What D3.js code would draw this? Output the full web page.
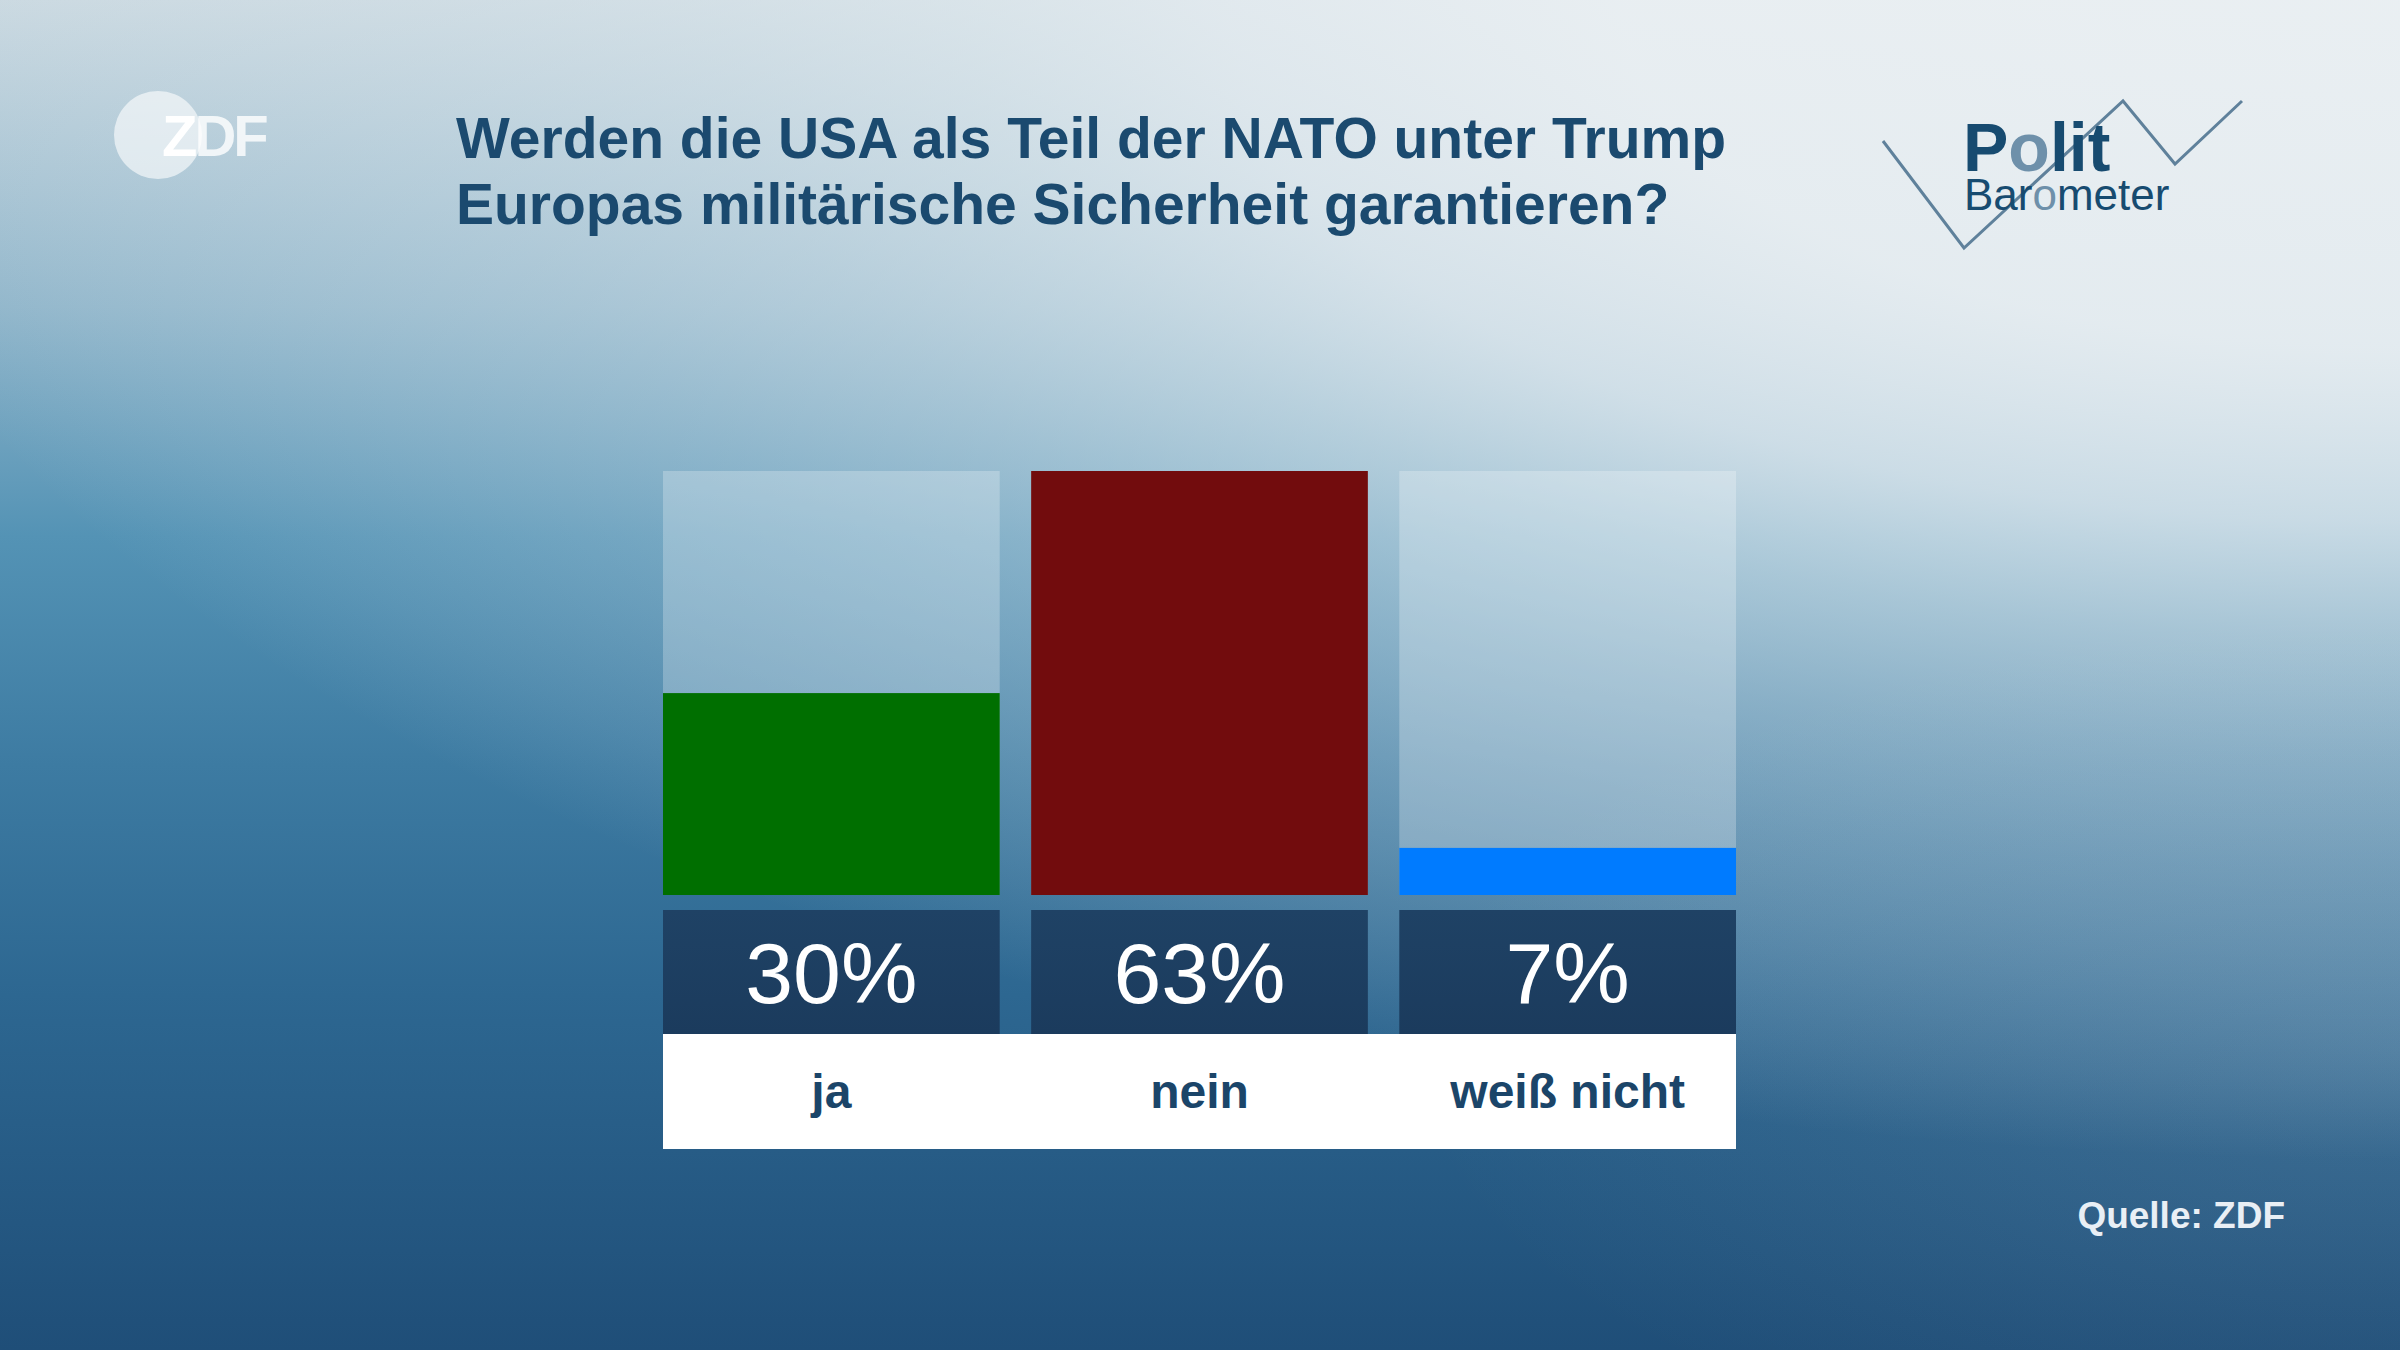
<!DOCTYPE html>
<html><head><meta charset="utf-8">
<script src="https://cdn.jsdelivr.net/npm/d3@7"></script>
<style>html,body{margin:0;padding:0;overflow:hidden;background:#2a5a82}</style>
</head><body>
<script>
const categories = ["ja", "nein", "weiß nicht"];
const values = [30, 63, 7];
const valueLabels = ["30%", "63%", "7%"];
const barColors = ["#006f00", "#720c0d", "#007bff"];
const titleLines = ["Werden die USA als Teil der NATO unter Trump", "Europas militärische Sicherheit garantieren?"];
const sourceText = "Quelle: ZDF";

const W = 2400, H = 1350;
const FONT = "Liberation Sans, Arial, sans-serif";
const svg = d3.select("body").append("svg").attr("width", W).attr("height", H);
const defs = svg.append("defs");

function linGrad(id, vertical, stops) {
  const g = defs.append("linearGradient").attr("id", id).attr("x1", 0).attr("y1", 0)
    .attr("x2", vertical ? 0 : 1).attr("y2", vertical ? 1 : 0);
  stops.forEach(([o, c, a]) => g.append("stop").attr("offset", o).attr("stop-color", c).attr("stop-opacity", a == null ? 1 : a));
}
function ellGrad(id, cx, cy, rx, ry, rot, stops) {
  const g = defs.append("radialGradient").attr("id", id).attr("gradientUnits", "userSpaceOnUse")
    .attr("cx", 0).attr("cy", 0).attr("r", 1)
    .attr("gradientTransform", `translate(${cx},${cy}) rotate(${rot}) scale(${rx},${ry})`);
  stops.forEach(([o, c, a]) => g.append("stop").attr("offset", o).attr("stop-color", c).attr("stop-opacity", a));
}
linGrad("bgV", true, [[0, "#c9d8e0"], [0.227, "#8fb5ca"], [0.397, "#5493b5"], [0.567, "#3d7ba2"], [0.737, "#2d6791"], [1, "#1f4e78"]]);
ellGrad("glow1", 2400, 0, 2600, 1160, 0, [
  [0, "#ebf0f3", 0.95], [0.3, "#ebf0f3", 0.92], [0.45, "#e8eef2", 0.78], [0.55, "#e4ecf0", 0.6],
  [0.65, "#e0e9ee", 0.45], [0.75, "#dde7ed", 0.32], [0.85, "#dde7ed", 0.2], [0.93, "#dde7ed", 0.1], [1, "#dde7ed", 0]]);
ellGrad("glow2", 2400, 1050, 1000, 450, 0, [[0, "#dfe8ee", 0.12], [1, "#dfe8ee", 0]]);
linGrad("boxGrad", true, [[0, "#1f4265"], [1, "#1b3b5d"]]);

svg.append("rect").attr("width", W).attr("height", H).attr("fill", "url(#bgV)");
svg.append("rect").attr("width", W).attr("height", H).attr("fill", "url(#glow1)");
svg.append("rect").attr("width", W).attr("height", H).attr("fill", "url(#glow2)");

// ZDF logo
const logo = svg.append("g");
logo.append("circle").attr("cx", 158).attr("cy", 135).attr("r", 44).attr("fill", "#ffffff").attr("fill-opacity", 0.6);
const zdf = logo.append("text").attr("x", 162).attr("y", 156).attr("font-family", FONT)
  .attr("font-weight", 700).attr("font-size", 58).attr("fill", "#ffffff").attr("letter-spacing", -3);
zdf.append("tspan").text("Z");
zdf.append("tspan").attr("fill-opacity", 0.8).text("DF");

// Title
const title = svg.append("text").attr("font-family", FONT)
  .attr("font-weight", 700).attr("font-size", 57).attr("fill", "#1b4a6f");
titleLines.forEach((t, i) => title.append("tspan").attr("x", 456).attr("y", 158 + i * 66).text(t));

// Politbarometer logo
const pb = svg.append("g");
pb.append("polyline").attr("points", "1883,141 1964,248 2123,101 2175,164 2242,101")
  .attr("fill", "none").attr("stroke", "#5f819b").attr("stroke-width", 3);
const pbText = pb.append("text").attr("font-family", FONT).attr("fill", "#174b70");
const l1 = pbText.append("tspan").attr("x", 1963).attr("y", 171).attr("font-weight", 700).attr("font-size", 68);
l1.append("tspan").text("P");
l1.append("tspan").attr("fill", "#6e90aa").text("o");
l1.append("tspan").text("lit");
const l2 = pbText.append("tspan").attr("x", 1964).attr("y", 210).attr("font-weight", 400).attr("font-size", 44);
l2.append("tspan").text("Bar");
l2.append("tspan").attr("fill", "#6e90aa").text("o");
l2.append("tspan").text("meter");

// Chart
const x = d3.scaleBand().domain(categories).range([663, 1736]).paddingInner(0.0854).paddingOuter(0);
const y = d3.scaleLinear().domain([0, d3.max(values)]).range([895, 471]);
const data = categories.map((c, i) => ({ c, v: values[i], label: valueLabels[i], color: barColors[i] }));

const g = svg.append("g");
g.selectAll("rect.track").data(data).join("rect").attr("class", "track")
  .attr("x", d => x(d.c)).attr("width", x.bandwidth())
  .attr("y", y(d3.max(values))).attr("height", y(0) - y(d3.max(values)))
  .attr("fill", "#ffffff").attr("fill-opacity", 0.25);
g.selectAll("rect.bar").data(data).join("rect").attr("class", "bar")
  .attr("x", d => x(d.c)).attr("width", x.bandwidth())
  .attr("y", d => y(d.v)).attr("height", d => y(0) - y(d.v))
  .attr("fill", d => d.color);
g.selectAll("rect.vbox").data(data).join("rect").attr("class", "vbox")
  .attr("x", d => x(d.c)).attr("width", x.bandwidth())
  .attr("y", 910).attr("height", 124).attr("fill", "url(#boxGrad)");
g.selectAll("text.val").data(data).join("text").attr("class", "val")
  .attr("x", d => x(d.c) + x.bandwidth() / 2).attr("y", 1003).attr("text-anchor", "middle")
  .attr("font-family", FONT).attr("font-size", 86).attr("fill", "#ffffff")
  .text(d => d.label);
g.append("rect").attr("x", x.range()[0]).attr("width", x.range()[1] - x.range()[0])
  .attr("y", 1034).attr("height", 115).attr("fill", "#ffffff");
g.selectAll("text.cat").data(data).join("text").attr("class", "cat")
  .attr("x", d => x(d.c) + x.bandwidth() / 2).attr("y", 1108).attr("text-anchor", "middle")
  .attr("font-family", FONT).attr("font-weight", 700).attr("font-size", 48)
  .attr("fill", "#1b4569").text(d => d.c);

svg.append("text").attr("x", 2285).attr("y", 1228).attr("text-anchor", "end")
  .attr("font-family", FONT).attr("font-weight", 700).attr("font-size", 37)
  .attr("fill", "#e9eff5").text(sourceText);
</script>
</body></html>
